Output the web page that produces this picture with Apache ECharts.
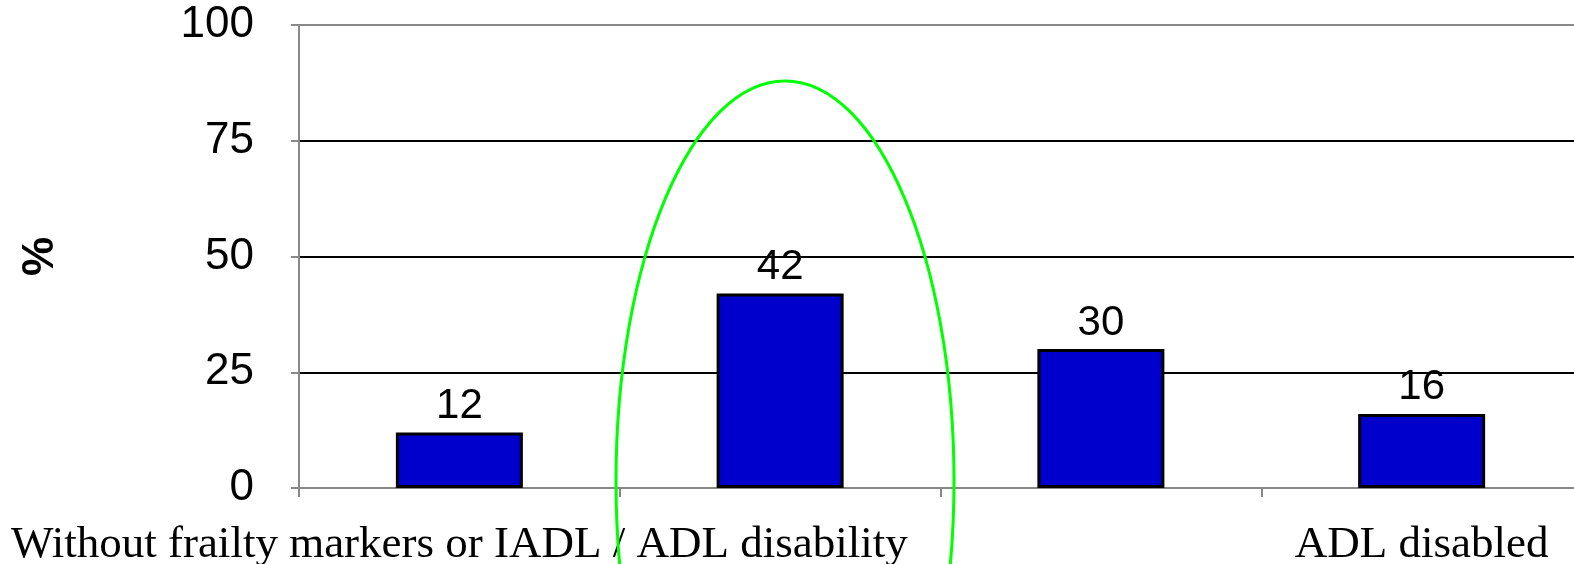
<!DOCTYPE html>
<html>
<head>
<meta charset="utf-8">
<script src="https://cdn.jsdelivr.net/npm/echarts@6/dist/echarts.min.js"></script>
<style>
  html, body { margin: 0; padding: 0; background: #fff; }
  #chart { width: 1574px; height: 564px; }
</style>
</head>
<body>
<div id="chart"></div>
<script>
// Share of participants in each functional group (%)
const categories = ['Without frailty markers or IADL / ADL disability', '', '', 'ADL disabled'];
const values = [12, 42, 30, 16];
const yTicks = [0, 25, 50, 75, 100];

const chart = echarts.init(document.getElementById('chart'));

chart.setOption({
  animation: false,
  backgroundColor: '#ffffff',
  // the plot area runs slightly past the right edge of the canvas
  grid: { left: 299, right: -8, top: 25, bottom: 76, outerBoundsMode: 'none', containLabel: false },
  xAxis: {
    type: 'category',
    data: categories,
    axisLine: { lineStyle: { color: '#888888', width: 2 } },
    axisTick: { show: true, length: 9, lineStyle: { color: '#888888', width: 2 } },
    axisLabel: {
      interval: 0,
      margin: 35,
      fontFamily: 'Liberation Serif',
      fontSize: 45,
      lineHeight: 45,
      color: '#000',
      overflow: 'none'
    }
  },
  yAxis: {
    type: 'value',
    min: yTicks[0],
    max: yTicks[yTicks.length - 1],
    interval: 25,
    name: '%',
    nameLocation: 'middle',
    nameRotate: 90,
    nameGap: 236,
    nameTextStyle: { fontFamily: 'Liberation Sans', fontWeight: 'bold', fontSize: 44, color: '#000' },
    axisLine: { show: true, lineStyle: { color: '#888888', width: 2 } },
    axisTick: { show: true, length: 8, lineStyle: { color: '#888888', width: 2 } },
    axisLabel: { margin: 45, fontFamily: 'Liberation Sans', fontSize: 44, color: '#000' },
    splitLine: {
      show: true,
      lineStyle: { color: ['#888888', '#000000', '#000000', '#000000', '#888888'], width: 2 }
    }
  },
  series: [{
    type: 'bar',
    data: values,
    barWidth: 127,
    itemStyle: { color: '#0000cc', borderColor: '#000000', borderWidth: 3 },
    label: {
      show: true,
      position: 'top',
      distance: 5,
      fontFamily: 'Liberation Sans',
      fontSize: 42,
      color: '#000'
    }
  }],
  graphic: [{
    type: 'ellipse',
    silent: true,
    z: 100,
    shape: { cx: 785, cy: 481, rx: 169, ry: 400 },
    style: { fill: 'none', stroke: '#00ff00', lineWidth: 3 }
  }]
});
</script>
</body>
</html>
